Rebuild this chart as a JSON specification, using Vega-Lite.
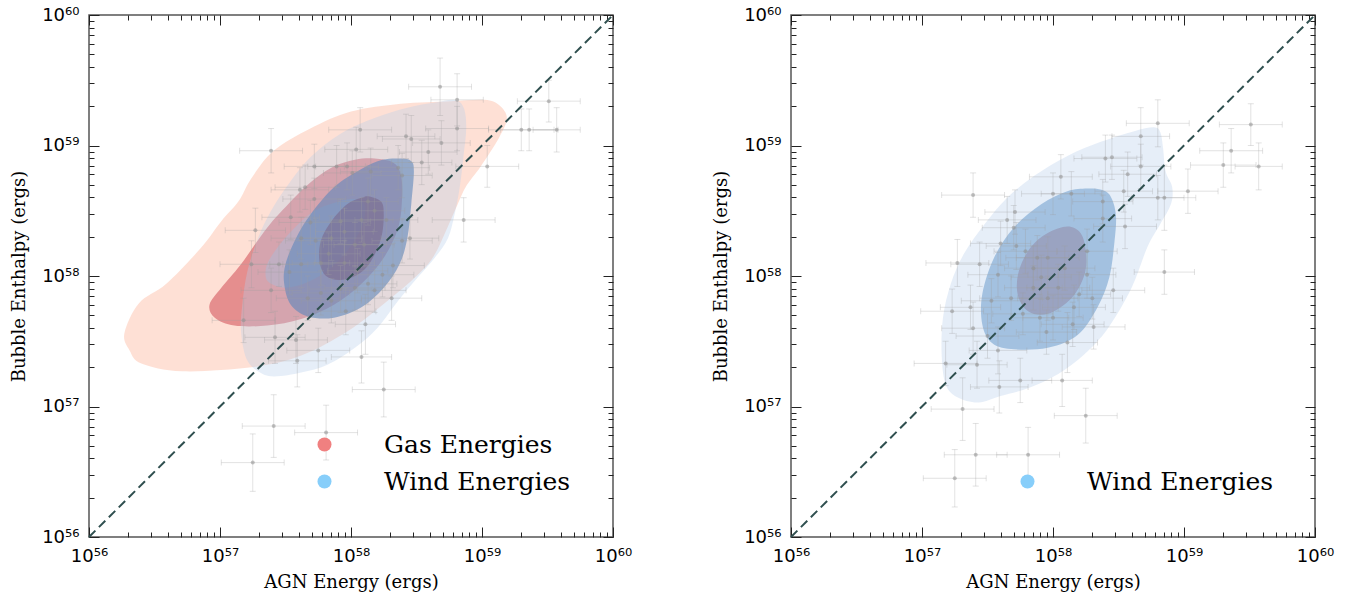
{
  "$schema": "https://vega.github.io/schema/vega-lite/v6.json",
  "background": "white",
  "padding": {"left": 9, "top": 5, "right": 5, "bottom": 5},
  "spacing": 178,
  "bounds": "flush",
  "config": {
    "view": {"stroke": "#555555", "strokeWidth": 1.5},
    "axis": {"domain": false, "grid": false, "tickColor": "#222222", "tickWidth": 1, "labelFont": "DejaVu Sans", "labelFontSize": 18, "labelColor": "#000000", "titleFont": "DejaVu Serif", "titleFontSize": 18, "titleFontWeight": "normal", "titleColor": "#000000", "labelFlush": false, "labelOverlap": false},
    "legend": {"labelLimit": 0}
  },
  "resolve": {"scale": {"fill": "independent"}, "legend": {"fill": "independent"}},
  "datasets": {
    "gasL": [
      {"level":"gas_outer","i":0,"x":56.27,"y":57.56},{"level":"gas_outer","i":1,"x":56.31,"y":57.43},{"level":"gas_outer","i":2,"x":56.40,"y":57.33},{"level":"gas_outer","i":3,"x":56.71,"y":57.27},{"level":"gas_outer","i":4,"x":57.24,"y":57.30},{"level":"gas_outer","i":5,"x":57.62,"y":57.39},{"level":"gas_outer","i":6,"x":57.98,"y":57.58},{"level":"gas_outer","i":7,"x":58.28,"y":57.81},{"level":"gas_outer","i":8,"x":58.50,"y":58.00},{"level":"gas_outer","i":9,"x":58.63,"y":58.15},{"level":"gas_outer","i":10,"x":58.74,"y":58.38},{"level":"gas_outer","i":11,"x":58.81,"y":58.54},{"level":"gas_outer","i":12,"x":58.88,"y":58.69},{"level":"gas_outer","i":13,"x":58.99,"y":58.84},{"level":"gas_outer","i":14,"x":59.13,"y":59.06},{"level":"gas_outer","i":15,"x":59.19,"y":59.21},{"level":"gas_outer","i":16,"x":59.13,"y":59.31},{"level":"gas_outer","i":17,"x":59.02,"y":59.35},{"level":"gas_outer","i":18,"x":58.76,"y":59.34},{"level":"gas_outer","i":19,"x":58.38,"y":59.32},{"level":"gas_outer","i":20,"x":58.00,"y":59.26},{"level":"gas_outer","i":21,"x":57.69,"y":59.13},{"level":"gas_outer","i":22,"x":57.41,"y":58.96},{"level":"gas_outer","i":23,"x":57.24,"y":58.75},{"level":"gas_outer","i":24,"x":57.14,"y":58.57},{"level":"gas_outer","i":25,"x":57.01,"y":58.42},{"level":"gas_outer","i":26,"x":56.85,"y":58.21},{"level":"gas_outer","i":27,"x":56.59,"y":57.94},{"level":"gas_outer","i":28,"x":56.38,"y":57.79},
      {"level":"gas_mid","i":0,"x":56.92,"y":57.78},{"level":"gas_mid","i":1,"x":56.96,"y":57.68},{"level":"gas_mid","i":2,"x":57.11,"y":57.62},{"level":"gas_mid","i":3,"x":57.36,"y":57.62},{"level":"gas_mid","i":4,"x":57.62,"y":57.67},{"level":"gas_mid","i":5,"x":57.87,"y":57.78},{"level":"gas_mid","i":6,"x":58.08,"y":57.94},{"level":"gas_mid","i":7,"x":58.25,"y":58.14},{"level":"gas_mid","i":8,"x":58.36,"y":58.37},{"level":"gas_mid","i":9,"x":58.39,"y":58.60},{"level":"gas_mid","i":10,"x":58.38,"y":58.78},{"level":"gas_mid","i":11,"x":58.32,"y":58.87},{"level":"gas_mid","i":12,"x":58.18,"y":58.90},{"level":"gas_mid","i":13,"x":58.03,"y":58.89},{"level":"gas_mid","i":14,"x":57.85,"y":58.83},{"level":"gas_mid","i":15,"x":57.67,"y":58.70},{"level":"gas_mid","i":16,"x":57.52,"y":58.55},{"level":"gas_mid","i":17,"x":57.36,"y":58.37},{"level":"gas_mid","i":18,"x":57.16,"y":58.09},{"level":"gas_mid","i":19,"x":57.01,"y":57.91},
      {"level":"gas_inner","i":0,"x":57.35,"y":57.99},{"level":"gas_inner","i":1,"x":57.39,"y":57.94},{"level":"gas_inner","i":2,"x":57.49,"y":57.91},{"level":"gas_inner","i":3,"x":57.64,"y":57.94},{"level":"gas_inner","i":4,"x":57.82,"y":58.04},{"level":"gas_inner","i":5,"x":57.97,"y":58.19},{"level":"gas_inner","i":6,"x":58.08,"y":58.37},{"level":"gas_inner","i":7,"x":58.11,"y":58.50},{"level":"gas_inner","i":8,"x":58.09,"y":58.57},{"level":"gas_inner","i":9,"x":58.00,"y":58.59},{"level":"gas_inner","i":10,"x":57.87,"y":58.56},{"level":"gas_inner","i":11,"x":57.72,"y":58.50},{"level":"gas_inner","i":12,"x":57.57,"y":58.37},{"level":"gas_inner","i":13,"x":57.44,"y":58.22},{"level":"gas_inner","i":14,"x":57.36,"y":58.09}
    ],
    "windL": [
      {"level":"wind_outer","i":0,"x":58.64,"y":59.33},{"level":"wind_outer","i":1,"x":58.79,"y":59.35},{"level":"wind_outer","i":2,"x":58.86,"y":59.29},{"level":"wind_outer","i":3,"x":58.88,"y":59.14},{"level":"wind_outer","i":4,"x":58.86,"y":58.93},{"level":"wind_outer","i":5,"x":58.83,"y":58.68},{"level":"wind_outer","i":6,"x":58.79,"y":58.47},{"level":"wind_outer","i":7,"x":58.74,"y":58.29},{"level":"wind_outer","i":8,"x":58.64,"y":58.14},{"level":"wind_outer","i":9,"x":58.51,"y":57.99},{"level":"wind_outer","i":10,"x":58.36,"y":57.81},{"level":"wind_outer","i":11,"x":58.20,"y":57.60},{"level":"wind_outer","i":12,"x":58.03,"y":57.45},{"level":"wind_outer","i":13,"x":57.82,"y":57.32},{"level":"wind_outer","i":14,"x":57.62,"y":57.26},{"level":"wind_outer","i":15,"x":57.41,"y":57.23},{"level":"wind_outer","i":16,"x":57.29,"y":57.27},{"level":"wind_outer","i":17,"x":57.20,"y":57.37},{"level":"wind_outer","i":18,"x":57.16,"y":57.58},{"level":"wind_outer","i":19,"x":57.17,"y":57.78},{"level":"wind_outer","i":20,"x":57.21,"y":58.04},{"level":"wind_outer","i":21,"x":57.29,"y":58.29},{"level":"wind_outer","i":22,"x":57.39,"y":58.50},{"level":"wind_outer","i":23,"x":57.52,"y":58.70},{"level":"wind_outer","i":24,"x":57.69,"y":58.91},{"level":"wind_outer","i":25,"x":57.92,"y":59.09},{"level":"wind_outer","i":26,"x":58.18,"y":59.21},{"level":"wind_outer","i":27,"x":58.43,"y":59.29},
      {"level":"wind_mid","i":0,"x":58.38,"y":58.90},{"level":"wind_mid","i":1,"x":58.46,"y":58.88},{"level":"wind_mid","i":2,"x":58.48,"y":58.80},{"level":"wind_mid","i":3,"x":58.46,"y":58.55},{"level":"wind_mid","i":4,"x":58.43,"y":58.29},{"level":"wind_mid","i":5,"x":58.37,"y":58.09},{"level":"wind_mid","i":6,"x":58.25,"y":57.91},{"level":"wind_mid","i":7,"x":58.08,"y":57.76},{"level":"wind_mid","i":8,"x":57.87,"y":57.68},{"level":"wind_mid","i":9,"x":57.67,"y":57.69},{"level":"wind_mid","i":10,"x":57.54,"y":57.78},{"level":"wind_mid","i":11,"x":57.49,"y":57.94},{"level":"wind_mid","i":12,"x":57.50,"y":58.09},{"level":"wind_mid","i":13,"x":57.58,"y":58.29},{"level":"wind_mid","i":14,"x":57.69,"y":58.47},{"level":"wind_mid","i":15,"x":57.87,"y":58.68},{"level":"wind_mid","i":16,"x":58.08,"y":58.82},{"level":"wind_mid","i":17,"x":58.24,"y":58.89},
      {"level":"wind_inner","i":0,"x":58.14,"y":58.61},{"level":"wind_inner","i":1,"x":58.23,"y":58.57},{"level":"wind_inner","i":2,"x":58.25,"y":58.47},{"level":"wind_inner","i":3,"x":58.23,"y":58.29},{"level":"wind_inner","i":4,"x":58.15,"y":58.11},{"level":"wind_inner","i":5,"x":58.05,"y":58.01},{"level":"wind_inner","i":6,"x":57.92,"y":57.97},{"level":"wind_inner","i":7,"x":57.81,"y":58.00},{"level":"wind_inner","i":8,"x":57.76,"y":58.11},{"level":"wind_inner","i":9,"x":57.77,"y":58.27},{"level":"wind_inner","i":10,"x":57.85,"y":58.42},{"level":"wind_inner","i":11,"x":57.97,"y":58.55},{"level":"wind_inner","i":12,"x":58.08,"y":58.60}
    ],
    "windOuterR": [
      {"level":"wind_outer","i":0,"x":58.77,"y":59.14},{"level":"wind_outer","i":1,"x":58.62,"y":59.11},{"level":"wind_outer","i":2,"x":58.37,"y":59.03},{"level":"wind_outer","i":3,"x":58.11,"y":58.92},{"level":"wind_outer","i":4,"x":57.86,"y":58.77},{"level":"wind_outer","i":5,"x":57.65,"y":58.60},{"level":"wind_outer","i":6,"x":57.48,"y":58.40},{"level":"wind_outer","i":7,"x":57.32,"y":58.17},{"level":"wind_outer","i":8,"x":57.22,"y":57.94},{"level":"wind_outer","i":9,"x":57.16,"y":57.68},{"level":"wind_outer","i":10,"x":57.15,"y":57.40},{"level":"wind_outer","i":11,"x":57.18,"y":57.17},{"level":"wind_outer","i":12,"x":57.27,"y":57.07},{"level":"wind_outer","i":13,"x":57.43,"y":57.03},{"level":"wind_outer","i":14,"x":57.60,"y":57.08},{"level":"wind_outer","i":15,"x":57.81,"y":57.14},{"level":"wind_outer","i":16,"x":58.04,"y":57.25},{"level":"wind_outer","i":17,"x":58.24,"y":57.40},{"level":"wind_outer","i":18,"x":58.42,"y":57.60},{"level":"wind_outer","i":19,"x":58.60,"y":57.91},{"level":"wind_outer","i":20,"x":58.72,"y":58.22},{"level":"wind_outer","i":21,"x":58.82,"y":58.40},{"level":"wind_outer","i":22,"x":58.90,"y":58.55},{"level":"wind_outer","i":23,"x":58.91,"y":58.68},{"level":"wind_outer","i":24,"x":58.86,"y":58.80},{"level":"wind_outer","i":25,"x":58.84,"y":58.98},{"level":"wind_outer","i":26,"x":58.82,"y":59.10}
    ],
    "windInR": [
      {"level":"wind_mid","i":0,"x":58.26,"y":58.67},{"level":"wind_mid","i":1,"x":58.37,"y":58.66},{"level":"wind_mid","i":2,"x":58.44,"y":58.61},{"level":"wind_mid","i":3,"x":58.48,"y":58.47},{"level":"wind_mid","i":4,"x":58.47,"y":58.27},{"level":"wind_mid","i":5,"x":58.43,"y":57.99},{"level":"wind_mid","i":6,"x":58.34,"y":57.76},{"level":"wind_mid","i":7,"x":58.19,"y":57.55},{"level":"wind_mid","i":8,"x":57.96,"y":57.45},{"level":"wind_mid","i":9,"x":57.68,"y":57.44},{"level":"wind_mid","i":10,"x":57.53,"y":57.49},{"level":"wind_mid","i":11,"x":57.46,"y":57.63},{"level":"wind_mid","i":12,"x":57.46,"y":57.86},{"level":"wind_mid","i":13,"x":57.55,"y":58.14},{"level":"wind_mid","i":14,"x":57.70,"y":58.37},{"level":"wind_mid","i":15,"x":57.91,"y":58.55},{"level":"wind_mid","i":16,"x":58.11,"y":58.65},
      {"level":"wind_inner","i":0,"x":58.11,"y":58.38},{"level":"wind_inner","i":1,"x":58.21,"y":58.33},{"level":"wind_inner","i":2,"x":58.25,"y":58.19},{"level":"wind_inner","i":3,"x":58.24,"y":58.01},{"level":"wind_inner","i":4,"x":58.14,"y":57.83},{"level":"wind_inner","i":5,"x":57.96,"y":57.71},{"level":"wind_inner","i":6,"x":57.81,"y":57.73},{"level":"wind_inner","i":7,"x":57.73,"y":57.86},{"level":"wind_inner","i":8,"x":57.74,"y":58.04},{"level":"wind_inner","i":9,"x":57.83,"y":58.22},{"level":"wind_inner","i":10,"x":57.96,"y":58.33}
    ],
    "ptsL": [
      {"x":58.68,"y":59.45,"xe":0.24,"ye":0.22},{"x":58.81,"y":59.35,"xe":0.2,"ye":0.2},{"x":58.81,"y":59.13,"xe":0.24,"ye":0.17},{"x":58.07,"y":59.12,"xe":0.24,"ye":0.17},{"x":57.39,"y":58.96,"xe":0.24,"ye":0.17},{"x":58.04,"y":58.97,"xe":0.24,"ye":0.17},{"x":58.42,"y":59.07,"xe":0.22,"ye":0.17},{"x":58.46,"y":59.05,"xe":0.22,"ye":0.18},{"x":58.59,"y":58.95,"xe":0.22,"ye":0.17},{"x":58.69,"y":59.02,"xe":0.22,"ye":0.17},
      {"x":59.04,"y":58.84,"xe":0.24,"ye":0.16},{"x":58.86,"y":58.43,"xe":0.24,"ye":0.17},{"x":59.30,"y":59.12,"xe":0.25,"ye":0.16},{"x":59.36,"y":59.12,"xe":0.22,"ye":0.16},{"x":59.57,"y":59.12,"xe":0.18,"ye":0.17},{"x":59.51,"y":59.34,"xe":0.24,"ye":0.16},{"x":58.54,"y":58.87,"xe":0.23,"ye":0.17},{"x":57.72,"y":58.84,"xe":0.23,"ye":0.17},{"x":57.89,"y":58.84,"xe":0.22,"ye":0.16},{"x":57.97,"y":58.84,"xe":0.24,"ye":0.18},
      {"x":57.65,"y":58.68,"xe":0.23,"ye":0.17},{"x":57.61,"y":58.66,"xe":0.22,"ye":0.17},{"x":57.72,"y":58.59,"xe":0.24,"ye":0.16},{"x":57.27,"y":58.35,"xe":0.23,"ye":0.17},{"x":57.24,"y":58.09,"xe":0.24,"ye":0.18},{"x":57.45,"y":58.09,"xe":0.22,"ye":0.17},{"x":57.39,"y":57.89,"xe":0.23,"ye":0.17},{"x":57.53,"y":58.03,"xe":0.24,"ye":0.17},{"x":57.18,"y":57.66,"xe":0.24,"ye":0.17},{"x":57.42,"y":57.53,"xe":0.23,"ye":0.2},
      {"x":57.58,"y":57.51,"xe":0.24,"ye":0.18},{"x":57.59,"y":57.35,"xe":0.22,"ye":0.2},{"x":57.75,"y":57.43,"xe":0.24,"ye":0.17},{"x":58.08,"y":57.38,"xe":0.23,"ye":0.2},{"x":58.25,"y":57.13,"xe":0.24,"ye":0.21},{"x":58.11,"y":57.63,"xe":0.23,"ye":0.23},{"x":58.31,"y":57.83,"xe":0.23,"ye":0.17},{"x":58.18,"y":57.89,"xe":0.24,"ye":0.17},{"x":58.13,"y":57.94,"xe":0.22,"ye":0.16},{"x":58.03,"y":57.91,"xe":0.23,"ye":0.17},
      {"x":57.92,"y":57.90,"xe":0.24,"ye":0.18},{"x":57.85,"y":57.81,"xe":0.23,"ye":0.17},{"x":57.77,"y":57.87,"xe":0.22,"ye":0.17},{"x":57.67,"y":57.83,"xe":0.24,"ye":0.17},{"x":57.96,"y":57.73,"xe":0.23,"ye":0.18},{"x":58.32,"y":58.08,"xe":0.24,"ye":0.17},{"x":58.39,"y":58.27,"xe":0.23,"ye":0.17},{"x":58.45,"y":58.29,"xe":0.22,"ye":0.16},{"x":58.39,"y":58.77,"xe":0.23,"ye":0.17},{"x":58.36,"y":58.83,"xe":0.24,"ye":0.17},
      {"x":58.15,"y":58.80,"xe":0.23,"ye":0.18},{"x":58.01,"y":58.79,"xe":0.22,"ye":0.17},{"x":58.27,"y":58.43,"xe":0.24,"ye":0.17},{"x":58.18,"y":58.50,"xe":0.23,"ye":0.16},{"x":58.08,"y":58.43,"xe":0.24,"ye":0.17},{"x":57.92,"y":58.42,"xe":0.23,"ye":0.17},{"x":57.95,"y":58.34,"xe":0.22,"ye":0.18},{"x":58.03,"y":58.24,"xe":0.24,"ye":0.17},{"x":58.10,"y":58.24,"xe":0.23,"ye":0.17},{"x":57.83,"y":58.17,"xe":0.24,"ye":0.16},
      {"x":57.95,"y":58.10,"xe":0.23,"ye":0.17},{"x":57.77,"y":58.10,"xe":0.22,"ye":0.17},{"x":57.62,"y":58.09,"xe":0.24,"ye":0.18},{"x":57.73,"y":58.27,"xe":0.23,"ye":0.17},{"x":57.85,"y":58.29,"xe":0.24,"ye":0.17},{"x":57.62,"y":58.29,"xe":0.23,"ye":0.16},{"x":57.54,"y":58.45,"xe":0.22,"ye":0.17},{"x":57.69,"y":58.41,"xe":0.24,"ye":0.17},{"x":58.13,"y":58.57,"xe":0.23,"ye":0.18},{"x":58.24,"y":58.01,"xe":0.24,"ye":0.17},
      {"x":58.05,"y":58.04,"xe":0.23,"ye":0.17},{"x":57.41,"y":56.85,"xe":0.24,"ye":0.24},{"x":57.81,"y":56.80,"xe":0.24,"ye":0.21},{"x":57.25,"y":56.57,"xe":0.24,"ye":0.22}
    ],
    "ptsR": [
      {"x":58.67,"y":59.07,"xe":0.22,"ye":0.22},{"x":58.80,"y":59.17,"xe":0.24,"ye":0.18},{"x":59.51,"y":59.16,"xe":0.24,"ye":0.16},{"x":59.36,"y":58.96,"xe":0.24,"ye":0.17},{"x":59.30,"y":58.85,"xe":0.25,"ye":0.17},{"x":59.57,"y":58.84,"xe":0.18,"ye":0.18},{"x":59.03,"y":58.65,"xe":0.23,"ye":0.17},{"x":58.85,"y":58.60,"xe":0.24,"ye":0.25},{"x":58.80,"y":58.60,"xe":0.2,"ye":0.17},{"x":58.85,"y":58.03,"xe":0.23,"ye":0.17},
      {"x":58.67,"y":58.84,"xe":0.23,"ye":0.17},{"x":58.57,"y":58.78,"xe":0.22,"ye":0.17},{"x":58.40,"y":58.90,"xe":0.24,"ye":0.18},{"x":58.45,"y":58.91,"xe":0.23,"ye":0.17},{"x":58.54,"y":58.65,"xe":0.22,"ye":0.16},{"x":58.55,"y":58.38,"xe":0.24,"ye":0.17},{"x":58.38,"y":58.57,"xe":0.23,"ye":0.17},{"x":58.38,"y":58.44,"xe":0.22,"ye":0.18},{"x":58.06,"y":58.76,"xe":0.24,"ye":0.17},{"x":58.14,"y":58.63,"xe":0.23,"ye":0.17},
      {"x":58.00,"y":58.63,"xe":0.24,"ye":0.16},{"x":57.39,"y":58.62,"xe":0.24,"ye":0.17},{"x":57.71,"y":58.49,"xe":0.23,"ye":0.17},{"x":57.65,"y":58.43,"xe":0.22,"ye":0.18},{"x":57.70,"y":58.37,"xe":0.24,"ye":0.17},{"x":57.60,"y":58.25,"xe":0.23,"ye":0.17},{"x":57.27,"y":58.10,"xe":0.24,"ye":0.18},{"x":57.44,"y":58.09,"xe":0.22,"ye":0.17},{"x":57.23,"y":57.73,"xe":0.24,"ye":0.17},{"x":57.37,"y":57.76,"xe":0.23,"ye":0.17},
      {"x":57.39,"y":57.60,"xe":0.24,"ye":0.2},{"x":57.18,"y":57.33,"xe":0.24,"ye":0.17},{"x":57.42,"y":57.32,"xe":0.23,"ye":0.18},{"x":57.59,"y":57.15,"xe":0.22,"ye":0.2},{"x":57.75,"y":57.20,"xe":0.24,"ye":0.17},{"x":58.07,"y":57.20,"xe":0.23,"ye":0.2},{"x":58.11,"y":57.49,"xe":0.23,"ye":0.23},{"x":58.31,"y":57.61,"xe":0.24,"ye":0.17},{"x":57.95,"y":57.57,"xe":0.23,"ye":0.17},{"x":57.58,"y":57.43,"xe":0.22,"ye":0.18},
      {"x":57.50,"y":57.54,"xe":0.24,"ye":0.17},{"x":57.31,"y":56.98,"xe":0.24,"ye":0.24},{"x":57.41,"y":56.63,"xe":0.24,"ye":0.24},{"x":57.81,"y":56.63,"xe":0.24,"ye":0.21},{"x":57.25,"y":56.45,"xe":0.24,"ye":0.22},{"x":58.25,"y":56.93,"xe":0.24,"ye":0.21},{"x":57.53,"y":57.81,"xe":0.23,"ye":0.17},{"x":57.68,"y":57.83,"xe":0.24,"ye":0.17},{"x":57.90,"y":57.68,"xe":0.22,"ye":0.18},{"x":58.00,"y":57.68,"xe":0.23,"ye":0.17},
      {"x":58.15,"y":57.63,"xe":0.24,"ye":0.17},{"x":58.30,"y":57.83,"xe":0.23,"ye":0.16},{"x":58.46,"y":57.89,"xe":0.24,"ye":0.17},{"x":58.26,"y":58.19,"xe":0.23,"ye":0.17},{"x":58.26,"y":58.01,"xe":0.22,"ye":0.18},{"x":58.20,"y":57.86,"xe":0.24,"ye":0.17},{"x":58.09,"y":58.06,"xe":0.23,"ye":0.17},{"x":57.96,"y":58.14,"xe":0.24,"ye":0.16},{"x":57.91,"y":57.99,"xe":0.23,"ye":0.17},{"x":57.85,"y":57.91,"xe":0.22,"ye":0.17},
      {"x":58.04,"y":57.91,"xe":0.24,"ye":0.18},{"x":57.96,"y":57.83,"xe":0.23,"ye":0.17},{"x":58.16,"y":57.76,"xe":0.24,"ye":0.17},{"x":57.77,"y":57.71,"xe":0.23,"ye":0.16},{"x":57.85,"y":58.06,"xe":0.22,"ye":0.17},{"x":57.79,"y":58.19,"xe":0.24,"ye":0.17},{"x":57.72,"y":58.23,"xe":0.23,"ye":0.18},{"x":57.88,"y":58.14,"xe":0.24,"ye":0.17},{"x":57.58,"y":58.01,"xe":0.23,"ye":0.17}
    ],
    "diag": [{"x":56,"y":56},{"x":60,"y":60}]
  },
  "hconcat": [
    {
      "width": 524,
      "height": 522,
      "resolve": {"axis": {"x": "independent", "y": "independent"}},
      "layer": [
        {
          "data": {"name": "gasL"},
          "mark": {"type": "line", "interpolate": "cardinal-closed", "strokeWidth": 0},
          "encoding": {
            "x": {"field": "x", "type": "quantitative", "scale": {"domain": [56, 60], "nice": false, "zero": false},
              "axis": {"orient": "bottom", "values": [56, 57, 58, 59, 60], "tickSize": -10, "labelPadding": 20, "labelExpr": "datum.value == 56 ? '10⁵⁶' : datum.value == 57 ? '10⁵⁷' : datum.value == 58 ? '10⁵⁸' : datum.value == 59 ? '10⁵⁹' : '10⁶⁰'", "title": "AGN Energy (ergs)", "titleY": 45, "titleBaseline": "middle"}},
            "y": {"field": "y", "type": "quantitative", "scale": {"domain": [56, 60], "nice": false, "zero": false},
              "axis": {"orient": "left", "values": [56, 57, 58, 59, 60], "tickSize": -10, "labelPadding": 20, "labelExpr": "datum.value == 56 ? '10⁵⁶' : datum.value == 57 ? '10⁵⁷' : datum.value == 58 ? '10⁵⁸' : datum.value == 59 ? '10⁵⁹' : '10⁶⁰'", "title": "Bubble Enthalpy (ergs)", "titleX": -70, "titleY": 261, "titleAngle": -90, "titleBaseline": "middle", "titleAlign": "center"}},
            "order": {"field": "i", "type": "quantitative"},
            "fill": {"field": "level", "type": "nominal",
              "scale": {"domain": ["Gas Energies", "Wind Energies", "gas_outer", "gas_mid", "gas_inner", "wind_outer", "wind_mid", "wind_inner"], "range": ["#f08080", "#87cefa", "rgba(252,187,161,0.45)", "rgba(212,86,95,0.6)", "rgba(185,165,185,0.7)", "rgba(182,207,234,0.35)", "rgba(93,135,187,0.6)", "rgba(120,100,135,0.55)"]},
              "legend": {"values": ["Gas Energies", "Wind Energies"], "orient": "none", "legendX": 223, "legendY": 417, "title": null, "symbolType": "circle", "symbolSize": 196, "symbolOpacity": 1, "symbolStrokeWidth": 0, "labelFont": "DejaVu Serif", "labelFontSize": 25, "labelColor": "#000000", "labelOffset": 47, "labelLimit": 0, "rowPadding": 11, "padding": 0}}
          }
        },
        {
          "data": {"name": "windL"},
          "mark": {"type": "line", "interpolate": "cardinal-closed", "strokeWidth": 0},
          "encoding": {
            "x": {"field": "x", "type": "quantitative", "scale": {"domain": [56, 60], "nice": false, "zero": false},
              "axis": {"orient": "bottom", "values": [56.301, 56.477, 56.602, 56.699, 56.778, 56.845, 56.903, 56.954, 57.301, 57.477, 57.602, 57.699, 57.778, 57.845, 57.903, 57.954, 58.301, 58.477, 58.602, 58.699, 58.778, 58.845, 58.903, 58.954, 59.301, 59.477, 59.602, 59.699, 59.778, 59.845, 59.903, 59.954], "tickSize": -5, "labels": false, "title": null}},
            "y": {"field": "y", "type": "quantitative", "scale": {"domain": [56, 60], "nice": false, "zero": false},
              "axis": {"orient": "left", "values": [56.301, 56.477, 56.602, 56.699, 56.778, 56.845, 56.903, 56.954, 57.301, 57.477, 57.602, 57.699, 57.778, 57.845, 57.903, 57.954, 58.301, 58.477, 58.602, 58.699, 58.778, 58.845, 58.903, 58.954, 59.301, 59.477, 59.602, 59.699, 59.778, 59.845, 59.903, 59.954], "tickSize": -5, "labels": false, "title": null}},
            "order": {"field": "i", "type": "quantitative"},
            "fill": {"field": "level", "type": "nominal",
              "scale": {"domain": ["Gas Energies", "Wind Energies", "gas_outer", "gas_mid", "gas_inner", "wind_outer", "wind_mid", "wind_inner"], "range": ["#f08080", "#87cefa", "rgba(252,187,161,0.45)", "rgba(212,86,95,0.6)", "rgba(185,165,185,0.7)", "rgba(182,207,234,0.35)", "rgba(93,135,187,0.6)", "rgba(120,100,135,0.55)"]},
              "legend": {"values": ["Gas Energies", "Wind Energies"], "orient": "none", "legendX": 223, "legendY": 417, "title": null, "symbolType": "circle", "symbolSize": 196, "symbolOpacity": 1, "symbolStrokeWidth": 0, "labelFont": "DejaVu Serif", "labelFontSize": 25, "labelColor": "#000000", "labelOffset": 47, "labelLimit": 0, "rowPadding": 11, "padding": 0}}
          }
        },
        {
          "data": {"name": "ptsL"},
          "mark": {"type": "errorbar", "ticks": {"size": 6}, "color": "#a0a0a0", "opacity": 0.3},
          "encoding": {
            "x": {"field": "x", "type": "quantitative", "scale": {"domain": [56, 60], "nice": false, "zero": false}, "axis": null},
            "xError": {"field": "xe"},
            "y": {"field": "y", "type": "quantitative", "scale": {"domain": [56, 60], "nice": false, "zero": false}, "axis": null}
          }
        },
        {
          "data": {"name": "ptsL"},
          "mark": {"type": "errorbar", "ticks": {"size": 6}, "color": "#a0a0a0", "opacity": 0.3},
          "encoding": {
            "y": {"field": "y", "type": "quantitative", "scale": {"domain": [56, 60], "nice": false, "zero": false}, "axis": null},
            "yError": {"field": "ye"},
            "x": {"field": "x", "type": "quantitative", "scale": {"domain": [56, 60], "nice": false, "zero": false}, "axis": null}
          }
        },
        {
          "data": {"name": "ptsL"},
          "mark": {"type": "circle", "size": 16, "color": "#909090", "opacity": 0.55},
          "encoding": {
            "x": {"field": "x", "type": "quantitative", "scale": {"domain": [56, 60], "nice": false, "zero": false},
              "axis": {"orient": "top", "values": [56, 57, 58, 59, 60], "tickSize": -10, "labels": false, "title": null}},
            "y": {"field": "y", "type": "quantitative", "scale": {"domain": [56, 60], "nice": false, "zero": false},
              "axis": {"orient": "right", "values": [56, 57, 58, 59, 60], "tickSize": -10, "labels": false, "title": null}}
          }
        },
        {
          "data": {"name": "diag"},
          "mark": {"type": "line", "color": "#2f4f4f", "strokeWidth": 2, "strokeDash": [9, 5]},
          "encoding": {
            "x": {"field": "x", "type": "quantitative", "scale": {"domain": [56, 60], "nice": false, "zero": false},
              "axis": {"orient": "top", "values": [56.301, 56.477, 56.602, 56.699, 56.778, 56.845, 56.903, 56.954, 57.301, 57.477, 57.602, 57.699, 57.778, 57.845, 57.903, 57.954, 58.301, 58.477, 58.602, 58.699, 58.778, 58.845, 58.903, 58.954, 59.301, 59.477, 59.602, 59.699, 59.778, 59.845, 59.903, 59.954], "tickSize": -5, "labels": false, "title": null}},
            "y": {"field": "y", "type": "quantitative", "scale": {"domain": [56, 60], "nice": false, "zero": false},
              "axis": {"orient": "right", "values": [56.301, 56.477, 56.602, 56.699, 56.778, 56.845, 56.903, 56.954, 57.301, 57.477, 57.602, 57.699, 57.778, 57.845, 57.903, 57.954, 58.301, 58.477, 58.602, 58.699, 58.778, 58.845, 58.903, 58.954, 59.301, 59.477, 59.602, 59.699, 59.778, 59.845, 59.903, 59.954], "tickSize": -5, "labels": false, "title": null}}
          }
        }
      ]
    },
    {
      "width": 524,
      "height": 522,
      "resolve": {"axis": {"x": "independent", "y": "independent"}},
      "layer": [
        {
          "data": {"name": "windOuterR"},
          "mark": {"type": "line", "interpolate": "cardinal-closed", "strokeWidth": 0},
          "encoding": {
            "x": {"field": "x", "type": "quantitative", "scale": {"domain": [56, 60], "nice": false, "zero": false},
              "axis": {"orient": "bottom", "values": [56, 57, 58, 59, 60], "tickSize": -10, "labelPadding": 20, "labelExpr": "datum.value == 56 ? '10⁵⁶' : datum.value == 57 ? '10⁵⁷' : datum.value == 58 ? '10⁵⁸' : datum.value == 59 ? '10⁵⁹' : '10⁶⁰'", "title": "AGN Energy (ergs)", "titleY": 45, "titleBaseline": "middle"}},
            "y": {"field": "y", "type": "quantitative", "scale": {"domain": [56, 60], "nice": false, "zero": false},
              "axis": {"orient": "left", "values": [56, 57, 58, 59, 60], "tickSize": -10, "labelPadding": 20, "labelExpr": "datum.value == 56 ? '10⁵⁶' : datum.value == 57 ? '10⁵⁷' : datum.value == 58 ? '10⁵⁸' : datum.value == 59 ? '10⁵⁹' : '10⁶⁰'", "title": "Bubble Enthalpy (ergs)", "titleX": -70, "titleY": 261, "titleAngle": -90, "titleBaseline": "middle", "titleAlign": "center"}},
            "order": {"field": "i", "type": "quantitative"},
            "fill": {"field": "level", "type": "nominal",
              "scale": {"domain": ["Wind Energies", "wind_outer", "wind_mid", "wind_inner"], "range": ["#87cefa", "rgba(182,207,234,0.35)", "rgba(119,163,208,0.6)", "rgba(150,150,180,0.7)"]},
              "legend": {"values": ["Wind Energies"], "orient": "none", "legendX": 224, "legendY": 454, "title": null, "symbolType": "circle", "symbolSize": 196, "symbolOpacity": 1, "symbolStrokeWidth": 0, "labelFont": "DejaVu Serif", "labelFontSize": 25, "labelColor": "#000000", "labelOffset": 47, "labelLimit": 0, "rowPadding": 11, "padding": 0}}
          }
        },
        {
          "data": {"name": "windInR"},
          "mark": {"type": "line", "interpolate": "cardinal-closed", "strokeWidth": 0},
          "encoding": {
            "x": {"field": "x", "type": "quantitative", "scale": {"domain": [56, 60], "nice": false, "zero": false},
              "axis": {"orient": "bottom", "values": [56.301, 56.477, 56.602, 56.699, 56.778, 56.845, 56.903, 56.954, 57.301, 57.477, 57.602, 57.699, 57.778, 57.845, 57.903, 57.954, 58.301, 58.477, 58.602, 58.699, 58.778, 58.845, 58.903, 58.954, 59.301, 59.477, 59.602, 59.699, 59.778, 59.845, 59.903, 59.954], "tickSize": -5, "labels": false, "title": null}},
            "y": {"field": "y", "type": "quantitative", "scale": {"domain": [56, 60], "nice": false, "zero": false},
              "axis": {"orient": "left", "values": [56.301, 56.477, 56.602, 56.699, 56.778, 56.845, 56.903, 56.954, 57.301, 57.477, 57.602, 57.699, 57.778, 57.845, 57.903, 57.954, 58.301, 58.477, 58.602, 58.699, 58.778, 58.845, 58.903, 58.954, 59.301, 59.477, 59.602, 59.699, 59.778, 59.845, 59.903, 59.954], "tickSize": -5, "labels": false, "title": null}},
            "order": {"field": "i", "type": "quantitative"},
            "fill": {"field": "level", "type": "nominal",
              "scale": {"domain": ["Wind Energies", "wind_outer", "wind_mid", "wind_inner"], "range": ["#87cefa", "rgba(182,207,234,0.35)", "rgba(119,163,208,0.6)", "rgba(150,150,180,0.7)"]},
              "legend": {"values": ["Wind Energies"], "orient": "none", "legendX": 224, "legendY": 454, "title": null, "symbolType": "circle", "symbolSize": 196, "symbolOpacity": 1, "symbolStrokeWidth": 0, "labelFont": "DejaVu Serif", "labelFontSize": 25, "labelColor": "#000000", "labelOffset": 47, "labelLimit": 0, "rowPadding": 11, "padding": 0}}
          }
        },
        {
          "data": {"name": "ptsR"},
          "mark": {"type": "errorbar", "ticks": {"size": 6}, "color": "#a0a0a0", "opacity": 0.3},
          "encoding": {
            "x": {"field": "x", "type": "quantitative", "scale": {"domain": [56, 60], "nice": false, "zero": false}, "axis": null},
            "xError": {"field": "xe"},
            "y": {"field": "y", "type": "quantitative", "scale": {"domain": [56, 60], "nice": false, "zero": false}, "axis": null}
          }
        },
        {
          "data": {"name": "ptsR"},
          "mark": {"type": "errorbar", "ticks": {"size": 6}, "color": "#a0a0a0", "opacity": 0.3},
          "encoding": {
            "y": {"field": "y", "type": "quantitative", "scale": {"domain": [56, 60], "nice": false, "zero": false}, "axis": null},
            "yError": {"field": "ye"},
            "x": {"field": "x", "type": "quantitative", "scale": {"domain": [56, 60], "nice": false, "zero": false}, "axis": null}
          }
        },
        {
          "data": {"name": "ptsR"},
          "mark": {"type": "circle", "size": 16, "color": "#909090", "opacity": 0.55},
          "encoding": {
            "x": {"field": "x", "type": "quantitative", "scale": {"domain": [56, 60], "nice": false, "zero": false},
              "axis": {"orient": "top", "values": [56, 57, 58, 59, 60], "tickSize": -10, "labels": false, "title": null}},
            "y": {"field": "y", "type": "quantitative", "scale": {"domain": [56, 60], "nice": false, "zero": false},
              "axis": {"orient": "right", "values": [56, 57, 58, 59, 60], "tickSize": -10, "labels": false, "title": null}}
          }
        },
        {
          "data": {"name": "diag"},
          "mark": {"type": "line", "color": "#2f4f4f", "strokeWidth": 2, "strokeDash": [9, 5]},
          "encoding": {
            "x": {"field": "x", "type": "quantitative", "scale": {"domain": [56, 60], "nice": false, "zero": false},
              "axis": {"orient": "top", "values": [56.301, 56.477, 56.602, 56.699, 56.778, 56.845, 56.903, 56.954, 57.301, 57.477, 57.602, 57.699, 57.778, 57.845, 57.903, 57.954, 58.301, 58.477, 58.602, 58.699, 58.778, 58.845, 58.903, 58.954, 59.301, 59.477, 59.602, 59.699, 59.778, 59.845, 59.903, 59.954], "tickSize": -5, "labels": false, "title": null}},
            "y": {"field": "y", "type": "quantitative", "scale": {"domain": [56, 60], "nice": false, "zero": false},
              "axis": {"orient": "right", "values": [56.301, 56.477, 56.602, 56.699, 56.778, 56.845, 56.903, 56.954, 57.301, 57.477, 57.602, 57.699, 57.778, 57.845, 57.903, 57.954, 58.301, 58.477, 58.602, 58.699, 58.778, 58.845, 58.903, 58.954, 59.301, 59.477, 59.602, 59.699, 59.778, 59.845, 59.903, 59.954], "tickSize": -5, "labels": false, "title": null}}
          }
        }
      ]
    }
  ]
}
